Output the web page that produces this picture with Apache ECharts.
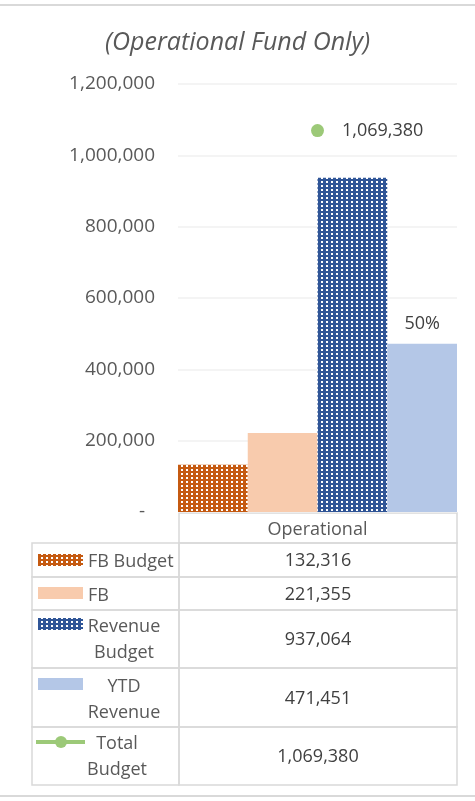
<!DOCTYPE html>
<html>
<head>
<meta charset="utf-8">
<script src="https://cdn.jsdelivr.net/npm/echarts@6/dist/echarts.min.js"></script>
<style>
html,body{margin:0;padding:0;background:#fff;}
#c{width:475px;height:801px;}
</style>
</head>
<body>
<div id="c"></div>
<script>
// ---- data ----
var categories = ['Operational'];
var seriesNames = ['FB Budget', 'FB', 'Revenue Budget', 'YTD Revenue', 'Total Budget'];
var fbBudget = [132316];
var fb = [221355];
var revenueBudget = [937064];
var ytdRevenue = [471451];
var totalBudget = [1069380];
var yTicks = [0, 200000, 400000, 600000, 800000, 1000000, 1200000];
var titleText = '(Operational Fund Only)';

// ---- styling ----
var FONT = '"Open Sans", "Noto Sans", sans-serif';
var C_ORANGE = '#c55a11', C_PEACH = '#f8cbad', C_BLUE = '#2f5597', C_LBLUE = '#b4c7e7', C_GREEN = '#9cc978';
var C_TEXT = '#404040', C_AXIS = '#595959', C_LINE = '#d9d9d9';

function dotPattern(bg) {
  var cv = document.createElement('canvas');
  cv.width = 5; cv.height = 4;
  var ctx = cv.getContext('2d');
  ctx.fillStyle = bg; ctx.fillRect(0, 0, 5, 4);
  ctx.fillStyle = '#ffffff'; ctx.fillRect(1, 1, 2, 2);
  return { image: cv, repeat: 'repeat' };
}
var patOrange = dotPattern(C_ORANGE);
var patBlue = dotPattern(C_BLUE);

function fmt(v) { return v.toLocaleString('en-US'); }

var chart = echarts.init(document.getElementById('c'), null, { renderer: 'canvas' });

// ---- table graphics (layout) ----
var tblL = 32, tblDiv = 179, tblR = 457;
var rowY = [543, 577, 610, 668, 727, 785];
var rowValues = [fbBudget[0], fb[0], revenueBudget[0], ytdRevenue[0], totalBudget[0]];
var iconFill = [patOrange, C_PEACH, patBlue, C_LBLUE, null];
var iconTop = [554, 587, 618, 678, 742];
var wrap = [false, false, true, true, true];
var textCx = [null, null, 124, 124, 117];
var g = [];
g.push({ type: 'line', shape: { x1: 0, y1: 5, x2: 475, y2: 5 }, style: { stroke: C_LINE, lineWidth: 2 } });
g.push({ type: 'line', shape: { x1: 0, y1: 796, x2: 475, y2: 796 }, style: { stroke: C_LINE, lineWidth: 2 } });
g.push({ type: 'rect', shape: { x: tblDiv, y: 513, width: tblR - tblDiv, height: rowY[0] - 513 }, style: { fill: 'none', stroke: C_LINE, lineWidth: 1.5 } });
for (var i = 0; i < 5; i++) {
  var y0 = rowY[i], y1 = rowY[i + 1], cy = (y0 + y1) / 2;
  g.push({ type: 'rect', shape: { x: tblL, y: y0, width: tblDiv - tblL, height: y1 - y0 }, style: { fill: 'none', stroke: C_LINE, lineWidth: 1.5 } });
  g.push({ type: 'rect', shape: { x: tblDiv, y: y0, width: tblR - tblDiv, height: y1 - y0 }, style: { fill: 'none', stroke: C_LINE, lineWidth: 1.5 } });
  g.push({ type: 'text', x: (tblDiv + tblR) / 2, y: cy + 1, style: { text: fmt(rowValues[i]), fill: C_TEXT, font: '18px ' + FONT, textAlign: 'center', textVerticalAlign: 'middle' } });
  if (iconFill[i]) {
    g.push({ type: 'rect', shape: { x: 38, y: iconTop[i], width: 45, height: 12 }, style: { fill: iconFill[i] } });
  } else {
    g.push({ type: 'line', shape: { x1: 36, y1: iconTop[i], x2: 85, y2: iconTop[i] }, style: { stroke: C_GREEN, lineWidth: 4 } });
    g.push({ type: 'circle', shape: { cx: 61, cy: iconTop[i], r: 6 }, style: { fill: C_GREEN } });
  }
  if (!wrap[i]) {
    g.push({ type: 'text', x: 88, y: cy + 2, style: { text: seriesNames[i], fill: C_AXIS, font: '18px ' + FONT, textAlign: 'left', textVerticalAlign: 'middle' } });
  } else {
    var parts = seriesNames[i].split(' ');
    var ly = (iconFill[i] ? iconTop[i] + 7 : iconTop[i]) + 2;
    for (var k = 0; k < parts.length; k++) {
      g.push({ type: 'text', x: textCx[i], y: ly + k * 26, style: { text: parts[k], fill: C_AXIS, font: '18px ' + FONT, textAlign: 'center', textVerticalAlign: 'middle' } });
    }
  }
}

var option = {
  animation: false,
  backgroundColor: '#ffffff',
  title: {
    text: titleText, left: 'center', top: 25,
    textStyle: { fontFamily: FONT, fontSize: 25, fontStyle: 'italic', fontWeight: 'normal', color: C_AXIS }
  },
  grid: { left: 178, right: 18, top: 84, bottom: 289, containLabel: false },
  xAxis: {
    type: 'category', data: categories,
    axisLine: { show: false }, axisTick: { show: false },
    axisLabel: { show: true, margin: 9, fontFamily: FONT, fontSize: 18, color: C_AXIS }
  },
  yAxis: {
    type: 'value', min: yTicks[0], max: yTicks[yTicks.length - 1], interval: yTicks[1] - yTicks[0],
    axisLine: { show: false }, axisTick: { show: false },
    splitLine: { lineStyle: { color: '#f0f0f0', width: 1.5 } },
    axisLabel: {
      margin: 23, fontFamily: FONT, fontSize: 19, color: C_AXIS,
      formatter: function (v) { return v === 0 ? '-  ' : fmt(v); }
    }
  },
  series: [
    { name: seriesNames[0], type: 'bar', data: fbBudget, barGap: '0%', barCategoryGap: '0%', itemStyle: { color: patOrange } },
    { name: seriesNames[1], type: 'bar', data: fb, itemStyle: { color: C_PEACH } },
    { name: seriesNames[2], type: 'bar', data: revenueBudget, itemStyle: { color: patBlue } },
    { name: seriesNames[3], type: 'bar', data: ytdRevenue, itemStyle: { color: C_LBLUE },
      label: { show: true, position: 'top', distance: 11, fontFamily: FONT, fontSize: 18, color: C_TEXT,
        formatter: function (p) { return Math.round(p.value / revenueBudget[p.dataIndex] * 100) + '%'; } } },
    { name: seriesNames[4], type: 'line', data: totalBudget, symbol: 'circle', symbolSize: 13,
      itemStyle: { color: C_GREEN }, lineStyle: { color: C_GREEN, width: 3 },
      label: { show: true, position: 'right', distance: 18, fontFamily: FONT, fontSize: 18, color: C_TEXT,
        formatter: function (p) { return fmt(p.value); } } }
  ],
  graphic: g
};
chart.setOption(option);
</script>
</body>
</html>
